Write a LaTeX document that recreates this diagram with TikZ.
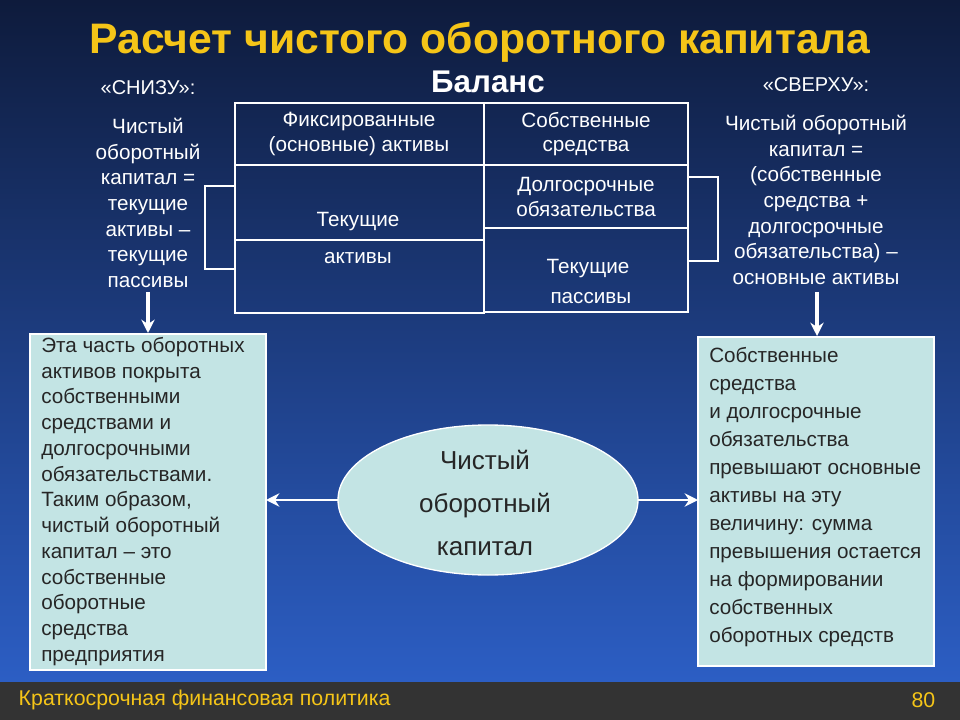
\documentclass[tikz,border=0pt]{standalone}
\usepackage{fontspec}
\setmainfont{Liberation Sans}
\usetikzlibrary{arrows.meta}
\definecolor{bgtop}{HTML}{0E1B3C}
\definecolor{bgbot}{HTML}{2C5EC4}
\definecolor{ttl}{HTML}{F5C518}
\definecolor{boxc}{HTML}{C3E4E4}
\definecolor{foot}{HTML}{333333}
\tikzset{
 wtxt/.style={text=white,align=center},
 tcell/.style={draw=white,line width=1pt},
 infobox/.style={draw=white,fill=boxc,line width=1pt},
 btxt/.style={text=black!85,align=left,anchor=north west,inner sep=0pt},
 wline/.style={draw=white,line width=1pt},
 warr/.style={draw=white,line width=2.4pt,-{Stealth[length=10pt,width=10pt]}},
}
\begin{document}
\begin{tikzpicture}[x=0.75pt,y=-0.75pt]
\useasboundingbox (0,0) rectangle (960,720);
\shade[top color=bgtop,bottom color=bgbot] (0,0) rectangle (960,682);
\fill[foot] (0,682) rectangle (960,720);
\node[text=ttl,font=\bfseries\fontsize{32}{36}\selectfont] (title) at (480,42) {Расчет чистого оборотного капитала};
\node[text=white,font=\bfseries\fontsize{23.5}{26}\selectfont] (bal) at (488,82) {Баланс};
\node[text=white,font=\fontsize{15}{18}\selectfont] (sn) at (148,88) {«СНИЗУ»:};
\node[text=white,font=\fontsize{15}{18}\selectfont] (sv) at (816,85) {«СВЕРХУ»:};
% table
\draw[tcell] (235,103) rectangle (484,165);
\draw[tcell] (235,165) rectangle (484,240);
\draw[tcell] (235,240) rectangle (484,313);
\draw[tcell] (484,103) rectangle (688,165);
\draw[tcell] (484,165) rectangle (688,228);
\draw[tcell] (484,228) rectangle (688,312);
\node[wtxt,font=\fontsize{15.5}{18.5}\selectfont] (fa) at (359,134) {Фиксированные\\(основные) активы};
\node[wtxt,font=\fontsize{15.5}{18.5}\selectfont] (ss) at (586,134) {Собственные\\средства};
\node[wtxt,font=\fontsize{15.5}{18.5}\selectfont] (ds) at (586,197) {Долгосрочные\\обязательства};
\node[wtxt,font=\fontsize{15.5}{18.5}\selectfont] (ta1) at (358,222) {Текущие};
\node[wtxt,font=\fontsize{15.5}{18.5}\selectfont] (ta2) at (358,258) {активы};
\node[wtxt,font=\fontsize{15.5}{22.5}\selectfont] (tp) at (588,281) {Текущие\\\ пассивы};
% brackets
\draw[wline] (235,186) -- (205,186) -- (205,269) -- (235,269);
\draw[wline] (688,177) -- (718,177) -- (718,261) -- (688,261);
% side texts
\node[wtxt,font=\fontsize{15.5}{19.2}\selectfont] (lt) at (148,203) {Чистый\\оборотный\\капитал =\\текущие\\активы –\\текущие\\пассивы};
\node[wtxt,font=\fontsize{15.5}{19.2}\selectfont] (rt) at (816,200) {Чистый оборотный\\капитал =\\(собственные\\средства +\\долгосрочные\\обязательства) –\\основные активы};
\coordinate (la1) at (148,292); \coordinate (la2) at (148,333);
\coordinate (ra1) at (817,292); \coordinate (ra2) at (817,336);
\draw[warr] (la1) -- (la2);
\draw[warr] (ra1) -- (ra2);
% boxes
\draw[infobox] (30,334) rectangle (266,670);
\coordinate (lb) at (266,500);
\node[btxt,font=\fontsize{15.5}{19.3}\selectfont] (ltx) at (41,337) {Эта часть оборотных\\активов покрыта\\собственными\\средствами и\\долгосрочными\\обязательствами.\\Таким образом,\\чистый оборотный\\капитал – это\\собственные\\оборотные\\средства\\предприятия};
\draw[infobox] (698,337) rectangle (934,666);
\coordinate (rb) at (698,500);
\node[btxt,font=\fontsize{15.5}{21}\selectfont] (rtx) at (709,347) {Собственные\\средства\\и долгосрочные\\обязательства\\превышают основные\\активы на эту\\величину: сумма\\превышения остается\\на формировании\\собственных\\оборотных средств};
% ellipse
\draw[infobox] (488,500) ellipse [x radius=150,y radius=75];
\node[text=black!85,align=center,font=\fontsize{19.5}{32.5}\selectfont] (el) at (485,503) {Чистый\\оборотный\\капитал};
\coordinate (el1) at (338,500); \coordinate (el2) at (638,500);
\draw[warr,line width=2pt] (el1) -- (lb);
\draw[warr,line width=2pt] (el2) -- (rb);
% footer
\node[text=ttl,anchor=west,font=\fontsize{16}{18}\selectfont] (ft) at (14,700) {Краткосрочная финансовая политика};
\node[text=ttl,anchor=east,font=\fontsize{16}{18}\selectfont] (pg) at (940,700) {80};
\end{tikzpicture}
\end{document}
